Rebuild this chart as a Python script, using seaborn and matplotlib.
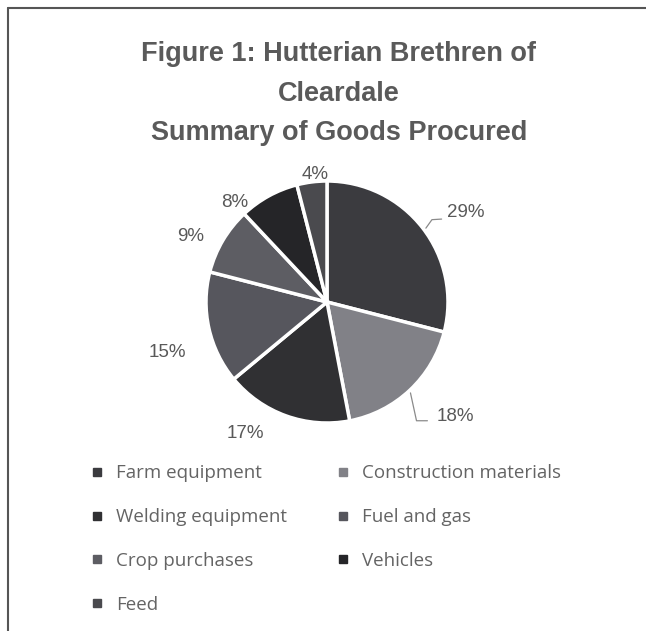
import matplotlib
matplotlib.use("Agg")
import matplotlib.pyplot as plt
from matplotlib.lines import Line2D
import seaborn as sns
import numpy as np

categories = ["Farm equipment", "Construction materials", "Welding equipment",
              "Fuel and gas", "Crop purchases", "Vehicles", "Feed"]
values = [29, 18, 17, 15, 9, 8, 4]
colors = ["#3b3b3f", "#818187", "#303033", "#56565d", "#5d5d63", "#252528", "#4a4a4e"]
title_lines = ["Figure 1: Hutterian Brethren of", "Cleardale", "Summary of Goods Procured"]

sns.set_theme(style="white")
plt.rcParams['font.family'] = ['Liberation Sans', 'DejaVu Sans']

W, H = 646, 631
fig = plt.figure(figsize=(W / 100, H / 100), dpi=100)
fig.patch.set_facecolor("white")

cx, cy, r = 327, 302, 121
ax = fig.add_axes([(cx - r) / W, (H - cy - r) / H, 2 * r / W, 2 * r / H])
wedges, _ = ax.pie(values, colors=colors, startangle=90, counterclock=False,
                   radius=1.0, wedgeprops=dict(edgecolor="white", linewidth=2.5))
ax.set_xlim(-1, 1)
ax.set_ylim(-1, 1)
ax.set_aspect("equal")
ax.axis("off")

# label placement: (distance in radii, angle offset in degrees) relative to wedge midpoint
label_dist = [1.36, 1.42, 1.28, 1.38, 1.25, 1.12, 1.06]
label_dang = [-5, 5, -12, 5, 5, 14, -2]
txtcol = "#595959"
for w, v, d, da in zip(wedges, values, label_dist, label_dang):
    mid = np.deg2rad((w.theta1 + w.theta2) / 2 + da)
    x, y = d * np.cos(mid), d * np.sin(mid)
    ax.text(x, y, f"{v}%", ha="center", va="center", fontsize=13.5, color=txtcol)

# leader lines for the two right-side labels (elbow style)
w = wedges[0]
a = np.deg2rad(w.theta1 + 0.49 * (w.theta2 - w.theta1))
ex, ey = 1.02 * np.cos(a), 1.02 * np.sin(a)
ax.plot([ex, ex + 0.05, ex + 0.13], [ey, ey + 0.07, ey + 0.075],
        color="#8a8a8a", lw=0.9, clip_on=False)
w = wedges[1]
a = np.deg2rad(w.theta1 + 0.49 * (w.theta2 - w.theta1))
ex, ey = 1.02 * np.cos(a), 1.02 * np.sin(a)
ax.plot([ex, ex + 0.05, ex + 0.14], [ey, ey - 0.23, ey - 0.23],
        color="#8a8a8a", lw=0.9, clip_on=False)

# title
tfam = ['Liberation Sans', 'DejaVu Sans']
for txt, yy in zip(title_lines, [54, 94, 133]):
    fig.text(339 / W, 1 - yy / H, txt, ha="center", va="center", fontsize=19.5,
             fontweight="bold", color="#5a5a5a", family=tfam)

# legend (row-wise order in 2 columns)
handles = [Line2D([0], [0], marker="s", linestyle="none", markersize=5.5,
                  markerfacecolor=c, markeredgecolor=c) for c in colors]
order = [0, 2, 4, 6, 1, 3, 5]
leg = fig.legend([handles[i] for i in order], [categories[i] for i in order],
                 ncol=2, loc="upper left", bbox_to_anchor=(82 / W, 1 - 457 / H),
                 borderaxespad=0, frameon=False, labelcolor="#646464",
                 handlelength=0.8, handletextpad=0.62, columnspacing=2.6,
                 labelspacing=1.37, prop={'family': ['Open Sans', 'DejaVu Sans'], 'size': 13.5})

# border lines (top and left)
fig.add_artist(Line2D([8 / W, 1], [1 - 8 / H, 1 - 8 / H], color="#555555", lw=1.5,
                      transform=fig.transFigure))
fig.add_artist(Line2D([8 / W, 8 / W], [0, 1 - 8 / H], color="#555555", lw=1.5,
                      transform=fig.transFigure))

fig.savefig("out.png", dpi=100, facecolor="white")
